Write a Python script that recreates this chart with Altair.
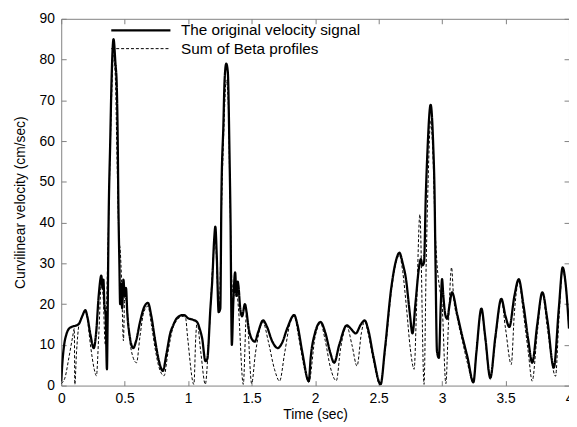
import altair as alt
import pandas as pd

series_names = ["The original velocity signal", "Sum of Beta profiles"]

orig_t = [0.0, 0.01, 0.023, 0.04, 0.062, 0.09, 0.114, 0.14, 0.165, 0.19, 0.205, 0.23, 0.256, 0.275, 0.295,
          0.316, 0.325, 0.332, 0.34, 0.35, 0.36, 0.365, 0.373, 0.386, 0.396, 0.412, 0.427, 0.437, 0.445, 0.45,
          0.458, 0.464, 0.472, 0.48, 0.49, 0.50, 0.51, 0.52, 0.54, 0.567, 0.59, 0.62, 0.65, 0.683, 0.71, 0.74,
          0.77, 0.8, 0.83, 0.86, 0.878, 0.91, 0.955, 0.968, 1.0, 1.033, 1.07, 1.09, 1.11, 1.136, 1.15, 1.175,
          1.19, 1.205, 1.214, 1.225, 1.24, 1.253, 1.262, 1.277, 1.287, 1.3, 1.312, 1.326, 1.333, 1.344, 1.355,
          1.37, 1.38, 1.39, 1.396, 1.41, 1.425, 1.447, 1.46, 1.473, 1.5, 1.525, 1.55, 1.59, 1.62, 1.66, 1.706,
          1.74, 1.78, 1.835, 1.86, 1.9, 1.95, 1.965, 2.0, 2.043, 2.08, 2.12, 2.15, 2.19, 2.25, 2.28, 2.32, 2.36,
          2.39, 2.42, 2.46, 2.516, 2.55, 2.6, 2.64, 2.664, 2.69, 2.716, 2.745, 2.767, 2.79, 2.82, 2.833, 2.845,
          2.858, 2.872, 2.884, 2.91, 2.93, 2.941, 2.948, 2.96, 2.975, 2.99, 3.0, 3.01, 3.026, 3.04, 3.06, 3.078,
          3.12, 3.16, 3.2, 3.247, 3.27, 3.31, 3.34, 3.38, 3.42, 3.467, 3.5, 3.53, 3.57, 3.604, 3.64, 3.68, 3.71,
          3.75, 3.79, 3.83, 3.88, 3.92, 3.95, 3.975, 4.0]
orig_v = [1, 6, 10, 12.5, 14, 14.5, 14.7, 15.2, 17, 18.5, 17, 12.5, 9.2, 13, 22,
          27, 24, 26, 20, 17, 4, 15, 40, 60, 74.5, 85, 79, 74, 60, 45,
          30, 20, 25, 19, 26, 22, 24, 18, 12, 9.2, 11, 15.5, 19, 20.3, 17, 11,
          6, 3.6, 8, 13, 14.5, 16.5, 17.3, 17.3, 16.5, 16.2, 15.6, 14, 11.6, 6, 6.5, 18.9,
          26, 36, 39, 32, 18, 18.9, 47, 63.6, 75, 79, 77, 56, 42, 10, 20,
          27.8, 22, 25.5, 24.5, 18.9, 17, 20, 18, 14.8, 11.5, 10.8, 13, 16, 14.5, 11, 9.2,
          10.5, 14, 17.3, 15, 8, 1.1, 6.8, 13, 15.6, 13, 8, 5.6, 10, 14.8, 14, 12.8, 15,
          16, 13.5, 7, 0.3, 9, 24, 31, 32.6, 30, 26.1, 18, 12.8, 20, 29.3, 31, 29.5,
          30.2, 46.7, 56.8, 68.9, 59.2, 47, 31, 8.4, 6.8, 20, 26.1, 22, 17.3, 16.4, 20, 22.9,
          17.4, 12, 7, 0.8, 8, 18.9, 12, 1.9, 12, 21.3, 17, 14.4, 22, 26.1, 20, 11, 5.6,
          15, 22.9, 16, 4.4, 19, 29, 24.5, 14]

beta_t = [0.0, 0.03, 0.06, 0.09, 0.103, 0.107, 0.12, 0.14, 0.165, 0.19, 0.205, 0.23, 0.26, 0.277, 0.295,
          0.316, 0.33, 0.347, 0.365, 0.38, 0.396, 0.412, 0.427, 0.44, 0.455, 0.465, 0.475, 0.49, 0.50, 0.515,
          0.54, 0.565, 0.593, 0.62, 0.65, 0.683, 0.71, 0.74, 0.77, 0.81, 0.84, 0.878, 0.91, 0.96, 0.98, 0.995,
          1.045, 1.06, 1.07, 1.1, 1.135, 1.16, 1.2, 1.214, 1.23, 1.245, 1.26, 1.28, 1.3, 1.315, 1.33, 1.345,
          1.36, 1.375, 1.396, 1.434, 1.46, 1.5, 1.53, 1.59, 1.63, 1.68, 1.72, 1.76, 1.8, 1.835, 1.87, 1.91,
          1.95, 2.0, 2.043, 2.08, 2.12, 2.167, 2.2, 2.25, 2.29, 2.33, 2.365, 2.39, 2.42, 2.46, 2.51, 2.55,
          2.6, 2.64, 2.664, 2.69, 2.72, 2.75, 2.78, 2.8, 2.825, 2.858, 2.875, 2.89, 2.91, 2.93, 2.945, 2.96,
          2.98, 3.0, 3.03, 3.05, 3.075, 3.09, 3.12, 3.16, 3.2, 3.245, 3.27, 3.31, 3.34, 3.38, 3.42, 3.467,
          3.5, 3.545, 3.57, 3.604, 3.64, 3.68, 3.71, 3.75, 3.79, 3.83, 3.894, 3.92, 3.95, 3.975, 4.0]
beta_v = [0.5, 2, 6.8, 12, 14, 0.3, 8, 15, 17, 18.3, 16.5, 10, 4, 2.4, 12,
          25, 22, 10, 30, 50, 70, 81, 75, 55, 36, 33, 26, 11, 22, 20,
          11, 7, 5.6, 12, 18, 19.5, 15, 9, 4.5, 2.4, 8, 14, 16, 17, 16.5, 12,
          0.3, 12, 15.5, 8, 0.3, 10, 32.6, 36, 25, 18, 40, 62, 75, 70, 45, 25,
          22, 25, 19, 0.3, 18, 0.5, 8, 15.5, 11, 4, 1.1, 8, 15, 17, 12, 5,
          0.8, 12, 15.3, 11, 4.5, 1.2, 9, 14.5, 10, 4.8, 13, 15.8, 12.5, 6, 0.3, 8,
          23, 30.5, 32, 28, 19, 9, 4, 20, 42, 0.3, 30, 50, 65, 55, 39, 30,
          24, 20, 0.5, 15, 29, 22, 16.5, 11, 5.5, 0.8, 8, 18.5, 11, 1.5, 11, 21,
          14, 5.2, 18, 25.5, 18, 8, 1.1, 13, 22.5, 14, 2.3, 16, 28.5, 24, 14]

x_ticks = [0, 0.5, 1, 1.5, 2, 2.5, 3, 3.5, 4]
y_ticks = [0, 10, 20, 30, 40, 50, 60, 70, 80, 90]

df = pd.concat([
    pd.DataFrame({"t": orig_t, "v": orig_v, "series": series_names[0]}),
    pd.DataFrame({"t": beta_t, "v": beta_v, "series": series_names[1]}),
], ignore_index=True)

FONT = "Liberation Sans"
AXIS_GRAY = "#808080"

xs = alt.Scale(domain=[0, 4], nice=False, zero=False)
ys = alt.Scale(domain=[0, 90], nice=False)

legend = alt.Legend(
    orient="none", legendX=73, legendY=4, title=None,
    symbolType="M-6,0H6", symbolSize=100, symbolStrokeColor="black",
    labelFont=FONT, labelFontSize=15.5, labelColor="black", labelLimit=0,
    labelOffset=33, rowPadding=1.5, padding=0,
)

lines = alt.Chart(df).mark_line(color="black", interpolate="monotone", clip=True).encode(
    x=alt.X("t:Q", scale=xs, axis=alt.Axis(
        orient="bottom", values=x_ticks, format="~g", title="Time (sec)", offset=-5, tickSize=5,
        domain=False, grid=False, labelPadding=6, titlePadding=2, labelFlush=False,
        labelFont=FONT, labelFontSize=14, labelColor="black", tickColor=AXIS_GRAY,
        titleFont=FONT, titleFontSize=14, titleFontWeight="normal", titleColor="black",
        labelOverlap=False)),
    y=alt.Y("v:Q", scale=ys, axis=alt.Axis(
        orient="left", values=y_ticks, title="Curvilinear velocity (cm/sec)", offset=-5, tickSize=5,
        domain=False, grid=False, labelPadding=7, titlePadding=12,
        labelFont=FONT, labelFontSize=14, labelColor="black", tickColor=AXIS_GRAY,
        titleFont=FONT, titleFontSize=14, titleFontWeight="normal", titleColor="black")),
    strokeDash=alt.StrokeDash("series:N", scale=alt.Scale(domain=series_names, range=[[1, 0], [3, 2]]),
                              legend=legend),
    strokeWidth=alt.StrokeWidth("series:N", scale=alt.Scale(domain=series_names, range=[2.3, 1]),
                                legend=legend),
)

frame = alt.Chart(df).mark_line(opacity=0).encode(
    x=alt.X("t:Q", scale=xs, axis=alt.Axis(
        orient="top", values=x_ticks, labels=False, title=None, offset=-5, tickSize=5,
        domain=False, grid=False, tickColor=AXIS_GRAY)),
    y=alt.Y("v:Q", scale=ys, axis=alt.Axis(
        orient="right", values=y_ticks, labels=False, title=None, offset=-5, tickSize=5,
        domain=False, grid=False, tickColor=AXIS_GRAY)),
)

chart = alt.layer(lines, frame).resolve_axis(x="independent", y="independent").properties(
    width=515, height=372,
    autosize=alt.AutoSizeParams(type="none"),
    padding={"left": 54, "top": 8, "right": 0, "bottom": 36},
    background="white",
).configure_view(stroke=AXIS_GRAY, strokeWidth=1)

chart.save("out.html", embed_options={"renderer": "svg", "actions": False})
